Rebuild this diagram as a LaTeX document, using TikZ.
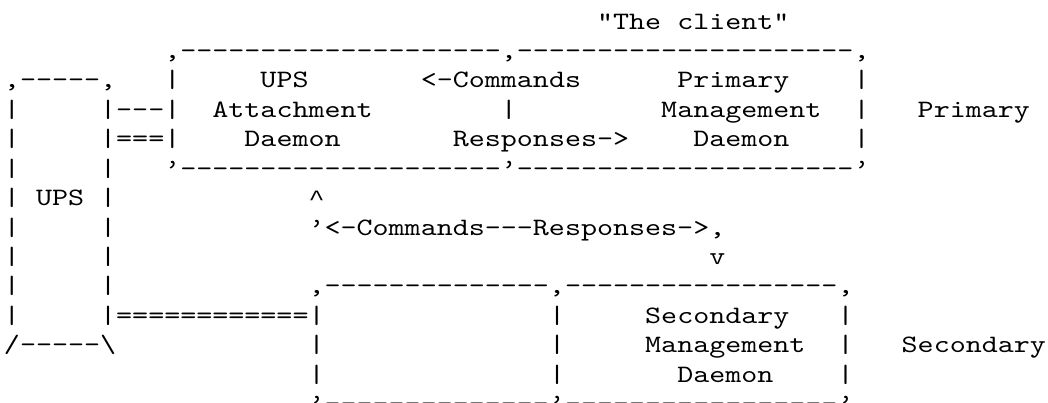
\documentclass[tikz,border=0pt]{standalone}
\usepackage{fontspec}
\setmonofont{lmmono10-regular.otf}
\newfontfamily\caretfont{Liberation Mono}
\tikzset{asc/.style={inner sep=0pt,outer sep=0pt,anchor=base west,font=\ttfamily\fontsize{30.53pt}{29.4pt}\selectfont}}
\newcommand\tx[4]{\node[asc] (#1) at ({(4+16.03*#2)*1pt},{-(29.2+29.4*#3)*1pt}) {\scalebox{1}[0.82]{#4}};}
\begin{document}
\begin{tikzpicture}
\useasboundingbox (0,0) rectangle (1048pt,-403pt);
% row 0
\tx{client}{37}{0}{"The client"}
% row 1
\tx{ptop}{10}{1}{,--------------------,---------------------,}
% row 2
\tx{upstop}{0}{2}{,-----,}
\tx{pl2}{10}{2}{|}
\tx{ups1}{16}{2}{UPS}
\tx{cmd1}{26}{2}{<-Commands}
\tx{prim1}{42}{2}{Primary}
\tx{pr2}{53}{2}{|}
% row 3
\tx{ul3}{0}{3}{|}
\tx{link1}{6}{3}{|---|}
\tx{attach}{13}{3}{Attachment}
\tx{pm3}{31}{3}{|}
\tx{mgmt1}{41}{3}{Management}
\tx{pr3}{53}{3}{|}
\tx{primlab}{57}{3}{Primary}
% row 4
\tx{ul4}{0}{4}{|}
\tx{link2}{6}{4}{|===|}
\tx{daemon1}{15}{4}{Daemon}
\tx{resp1}{28}{4}{Responses->}
\tx{daemon2}{43}{4}{Daemon}
\tx{pr4}{53}{4}{|}
% row 5
\tx{ul5}{0}{5}{|}
\tx{ur5}{6}{5}{|}
\tx{pbot}{10}{5}{’--------------------’---------------------’}
% row 6
\tx{ul6}{0}{6}{|}
\tx{upslab}{2}{6}{UPS}
\tx{ur6}{6}{6}{|}
\tx{up}{19}{6}{{\caretfont\fontsize{26.72pt}{29.4pt}\selectfont\textasciicircum}}
% row 7
\tx{ul7}{0}{7}{|}
\tx{ur7}{6}{7}{|}
\tx{loop}{19}{7}{’<-Commands---Responses->,}
% row 8
\tx{ul8}{0}{8}{|}
\tx{ur8}{6}{8}{|}
\tx{down}{44}{8}{v}
% row 9
\tx{ul9}{0}{9}{|}
\tx{ur9}{6}{9}{|}
\tx{stop}{19}{9}{,--------------,-----------------,}
% row 10
\tx{ul10}{0}{10}{|}
\tx{link3}{6}{10}{|============|}
\tx{sm10}{34}{10}{|}
\tx{sec1}{40}{10}{Secondary}
\tx{sr10}{52}{10}{|}
% row 11
\tx{upsbot}{0}{11}{/-----\textbackslash}
\tx{sl11}{19}{11}{|}
\tx{sm11}{34}{11}{|}
\tx{mgmt2}{40}{11}{Management}
\tx{sr11}{52}{11}{|}
\tx{seclab}{56}{11}{Secondary}
% row 12
\tx{sl12}{19}{12}{|}
\tx{sm12}{34}{12}{|}
\tx{daemon3}{42}{12}{Daemon}
\tx{sr12}{52}{12}{|}
% row 13
\tx{sbot}{19}{13}{’--------------’-----------------’}
\end{tikzpicture}
\end{document}
